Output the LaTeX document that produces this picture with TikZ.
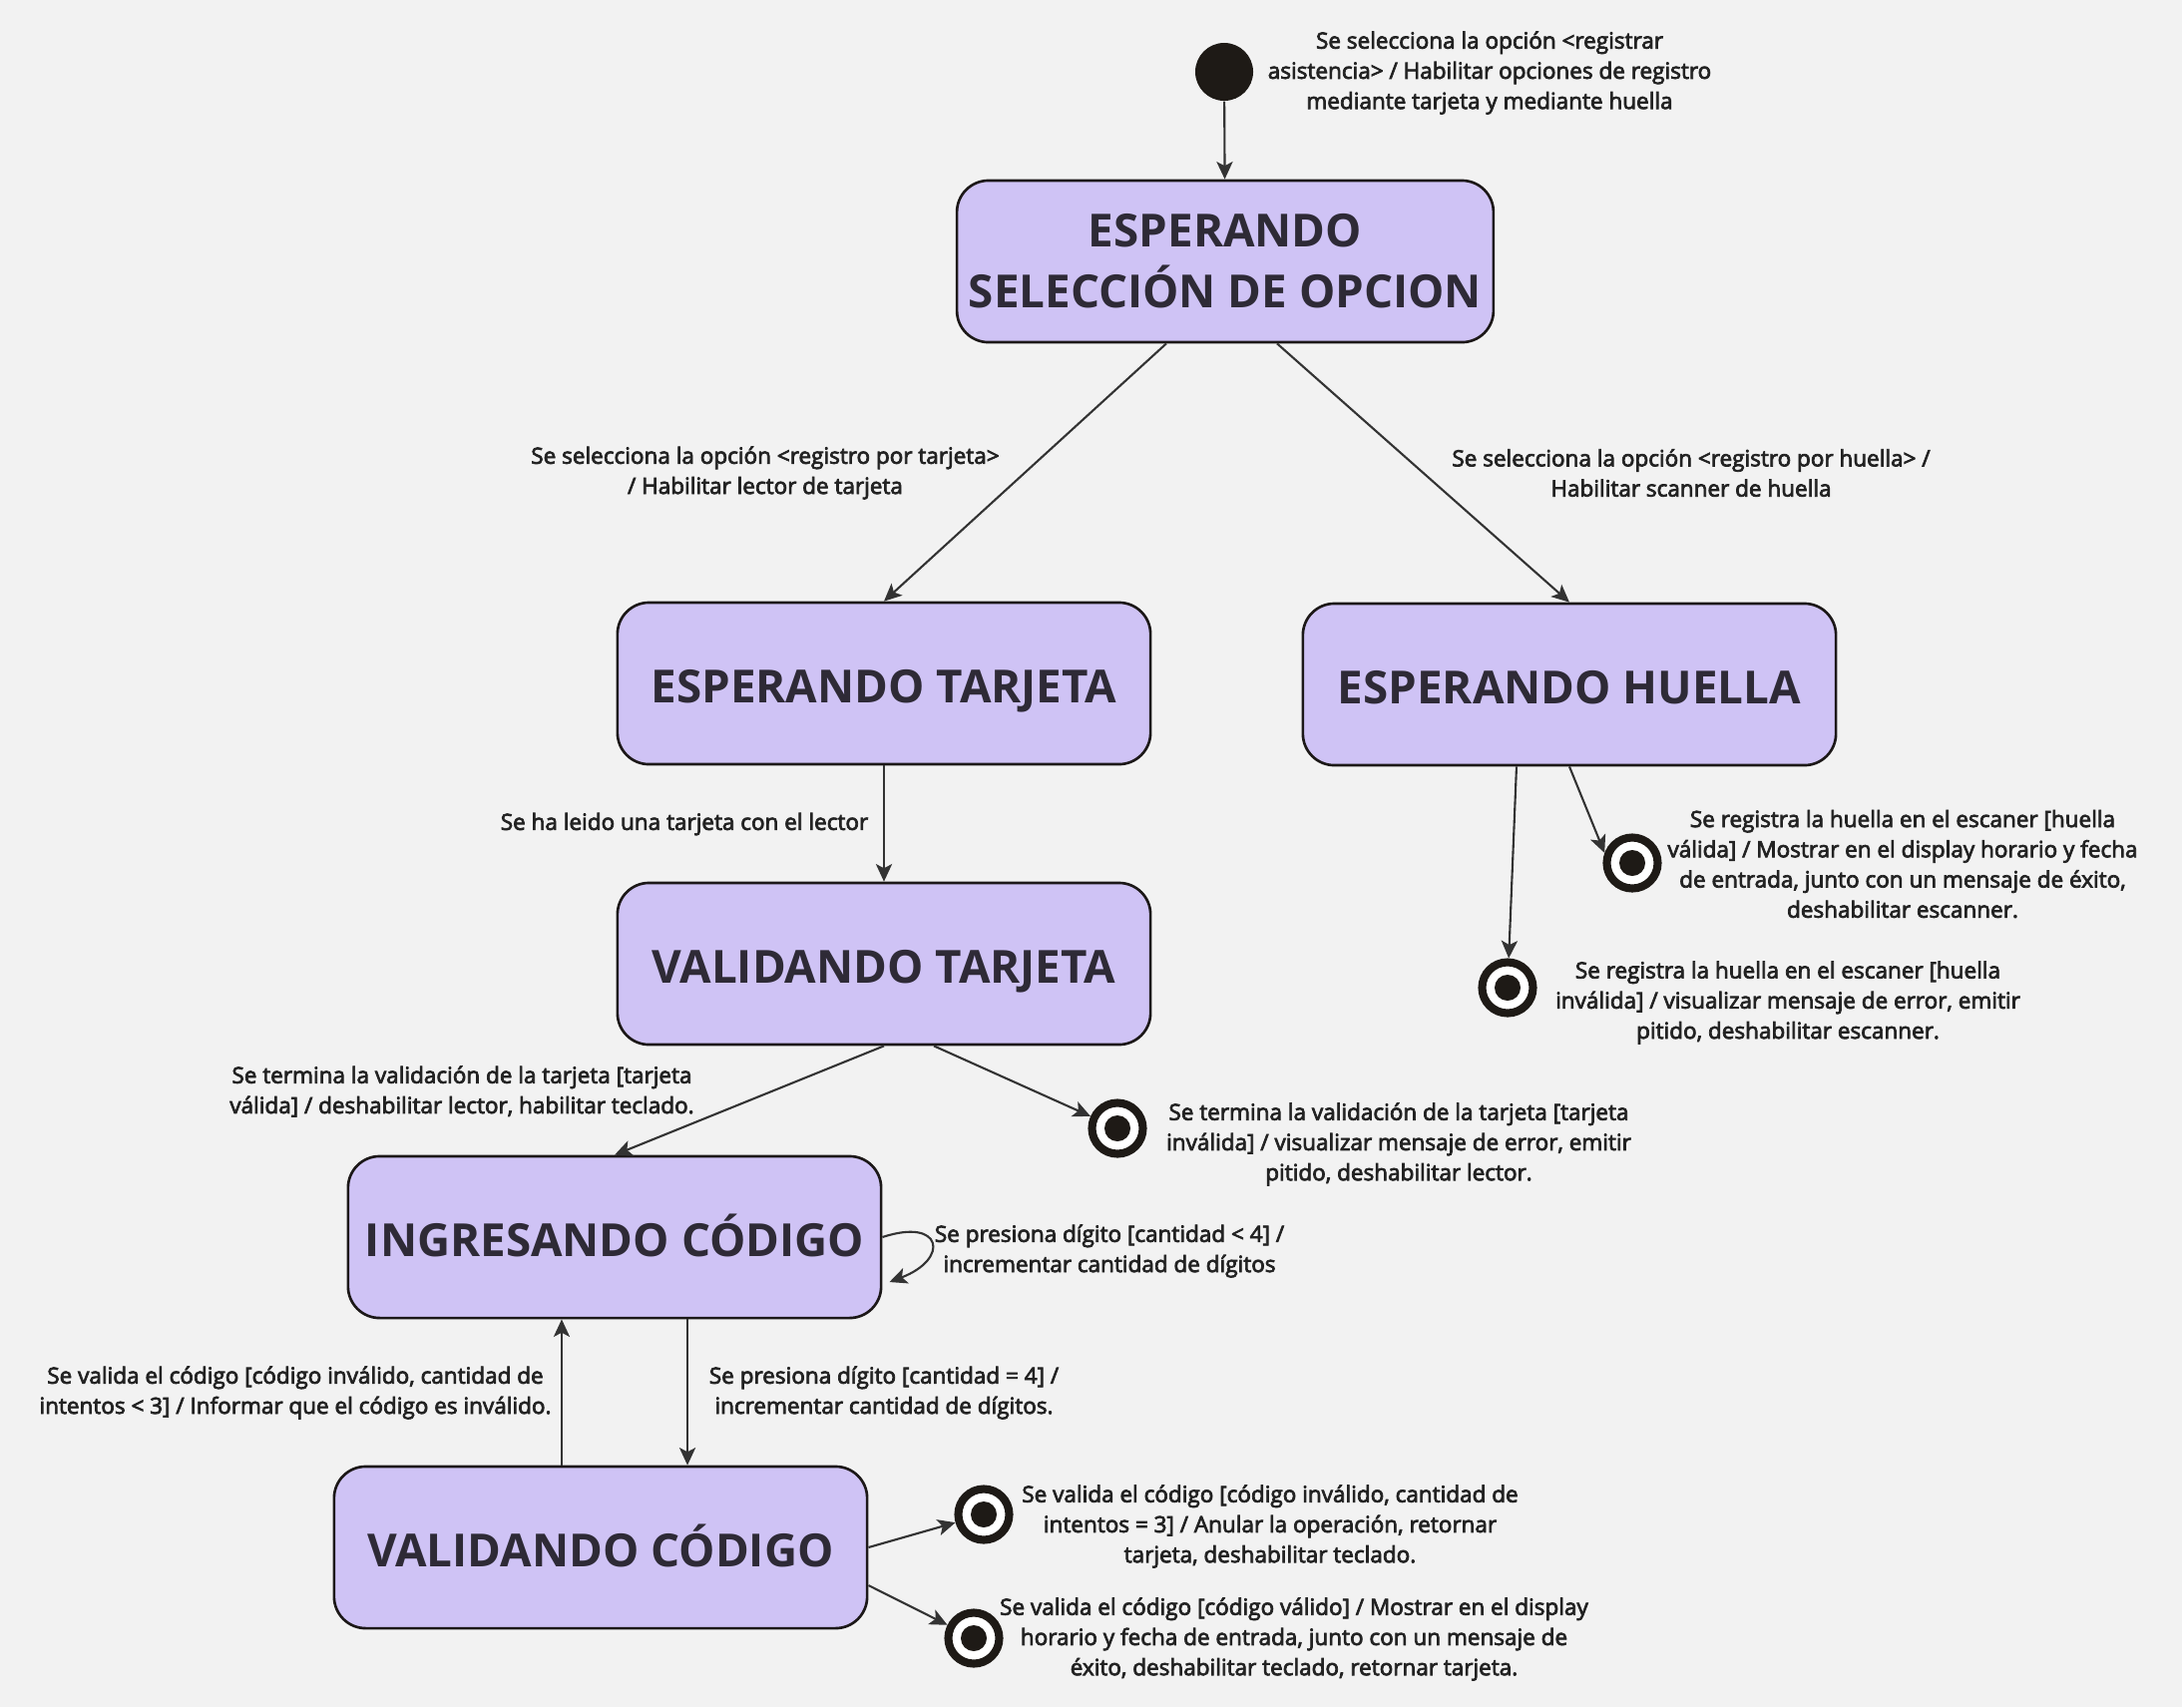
\documentclass[tikz,border=0pt]{standalone}
\usepackage{fontspec}
\setmainfont{Open Sans}
\newfontfamily\lblfont{Open Sans}[FakeBold=3.2]
\usepackage{tikz}
\usetikzlibrary{arrows.meta,positioning}
\definecolor{canvas}{HTML}{F2F2F2}
\definecolor{statefill}{HTML}{CFC3F5}
\definecolor{stateline}{HTML}{1C1818}
\definecolor{ink}{HTML}{2E2A36}
\definecolor{labelink}{HTML}{222222}
\definecolor{wire}{HTML}{333333}
\definecolor{pitch}{HTML}{1E1A16}
\tikzset{
    state-box/.style = {draw=stateline, fill=statefill, line width=0.75pt, rectangle, rounded corners=9pt, minimum width=5.34cm, minimum height=1.62cm, align=center, text=ink, font=\fontsize{13}{17.4}\selectfont\bfseries},
    one-line/.style = {text height=11pt, text depth=0pt},
    state-label/.style = {align=center, text=labelink, font=\lblfont\fontsize{6.4}{8.6}\selectfont},
    start-dot/.style = {circle, fill=pitch, inner sep=0pt, minimum size=0.58cm},
    end-ring/.style = {circle, draw=pitch, line width=2.3pt, fill=white, inner sep=0pt, minimum size=0.51cm,
        path picture={\fill[pitch] (path picture bounding box.center) circle (0.13cm);}},
    flow/.style = {draw=wire, line width=0.6pt, -{Stealth[length=5pt, width=4.6pt, inset=1.2pt]}},
}

\begin{document}
\begin{tikzpicture}[x=0.01cm, y=-0.01cm]
\fill[canvas] (0,0) rectangle (2187,1711);
\useasboundingbox (0,0) rectangle (2187,1711);

\node[start-dot] (init) at (1227,72) {};
\node[state-box] (opcion) at (1228,262) {ESPERANDO\\SELECCIÓN DE OPCION};
\node[state-box, one-line] (esptarjeta) at (886,685) {ESPERANDO TARJETA};
\node[state-box, one-line] (esphuella) at (1573,686) {ESPERANDO HUELLA};
\node[state-box, one-line] (valtarjeta) at (886,966) {VALIDANDO TARJETA};
\node[state-box, one-line] (ingcodigo) at (616,1240) {INGRESANDO CÓDIGO};
\node[state-box, one-line] (valcodigo) at (602,1551) {VALIDANDO CÓDIGO};

\node[end-ring] (fin-huella-ok) at (1636,865) {};
\node[end-ring] (fin-huella-mal) at (1511,990) {};
\node[end-ring] (fin-tarjeta-mal) at (1120,1131) {};
\node[end-ring] (fin-codigo-mal) at (986,1518) {};
\node[end-ring] (fin-codigo-ok) at (976,1642) {};

\draw[flow] (init) -- (opcion);
\draw[flow] ([xshift=-0.59cm]opcion.south) -- (esptarjeta.north);
\draw[flow] ([xshift=0.52cm]opcion.south) -- (esphuella.north);
\draw[flow] (esptarjeta) -- (valtarjeta);
\draw[flow] ([xshift=-0.53cm]esphuella.south) -- (fin-huella-mal);
\draw[flow] (esphuella.south) -- (fin-huella-ok.160);
\draw[flow] (valtarjeta.south) -- (ingcodigo.north);
\draw[flow] ([xshift=0.5cm]valtarjeta.south) -- (fin-tarjeta-mal);
\draw[flow] (ingcodigo.east) .. controls (945,1220) and (952,1262) .. ([xshift=0.07cm,yshift=-0.45cm]ingcodigo.east);
\draw[flow] ([xshift=0.73cm]ingcodigo.south) -- ([xshift=0.73cm]ingcodigo.south |- valcodigo.north);
\draw[flow] ([xshift=-0.39cm]valcodigo.north) -- ([xshift=-0.39cm]valcodigo.north |- ingcodigo.south);
\draw[flow] (valcodigo.east) -- (fin-codigo-mal);
\draw[flow] ([yshift=-0.38cm]valcodigo.east) -- (fin-codigo-ok);

\node[state-label] (l-inicio) at (1493,73) {Se selecciona la opción <registrar\\asistencia> / Habilitar opciones de registro\\mediante tarjeta y mediante huella};
\node[state-label] (l-portarjeta) at (767,474) {Se selecciona la opción <registro por tarjeta>\\/ Habilitar lector de tarjeta};
\node[state-label] (l-porhuella) at (1695,474) {Se selecciona la opción <registro por huella> /\\Habilitar scanner de huella};
\node[state-label] (l-leida) at (686,826) {Se ha leido una tarjeta con el lector};
\node[state-label] (l-huella-ok) at (1907,866) {Se registra la huella en el escaner [huella\\válida] / Mostrar en el display horario y fecha\\de entrada, junto con un mensaje de éxito,\\deshabilitar escanner.};
\node[state-label] (l-huella-mal) at (1792,1005) {Se registra la huella en el escaner [huella\\inválida] / visualizar mensaje de error, emitir\\pitido, deshabilitar escanner.};
\node[state-label] (l-tarjeta-ok) at (463,1094) {Se termina la validación de la tarjeta [tarjeta\\válida] / deshabilitar lector, habilitar teclado.};
\node[state-label] (l-tarjeta-mal) at (1402,1147) {Se termina la validación de la tarjeta [tarjeta\\inválida] / visualizar mensaje de error, emitir\\pitido, deshabilitar lector.};
\node[state-label] (l-digito) at (1112,1254) {Se presiona dígito [cantidad < 4] /\\incrementar cantidad de dígitos};
\node[state-label] (l-reintento) at (296,1396) {Se valida el código [código inválido, cantidad de\\intentos < 3] / Informar que el código es inválido.};
\node[state-label] (l-completo) at (886,1396) {Se presiona dígito [cantidad = 4] /\\incrementar cantidad de dígitos.};
\node[state-label] (l-codigo-mal) at (1273,1530) {Se valida el código [código inválido, cantidad de\\intentos = 3] / Anular la operación, retornar\\tarjeta, deshabilitar teclado.};
\node[state-label] (l-codigo-ok) at (1297,1643) {Se valida el código [código válido] / Mostrar en el display\\horario y fecha de entrada, junto con un mensaje de\\éxito, deshabilitar teclado, retornar tarjeta.};
\end{tikzpicture}
\end{document}
